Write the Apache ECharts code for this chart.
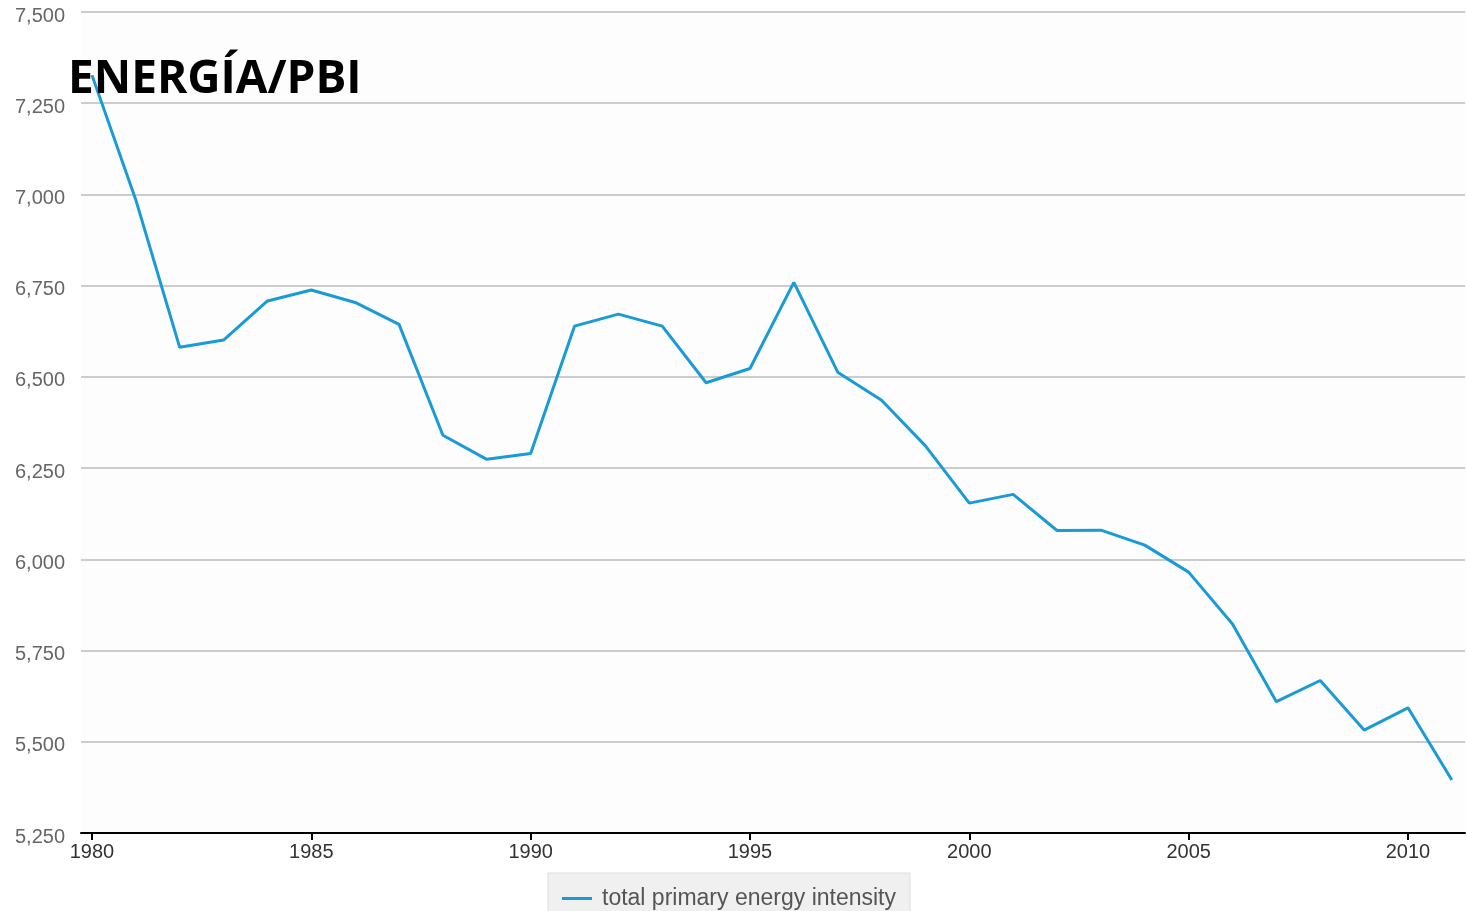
<!DOCTYPE html>
<html>
<head>
<meta charset="utf-8">
<script src="https://cdn.jsdelivr.net/npm/echarts@6/dist/echarts.min.js"></script>
<style>
    html, body { margin: 0; padding: 0; background: #fff; }
    #chart { width: 1467px; height: 911px; }
</style>
</head>
<body>
<div id="chart"></div>
<script>
// años y valores
let years = [1980, 1981, 1982, 1983, 1984, 1985, 1986, 1987, 1988, 1989,
             1990, 1991, 1992, 1993, 1994, 1995, 1996, 1997, 1998, 1999,
             2000, 2001, 2002, 2003, 2004, 2005, 2006, 2007, 2008, 2009,
             2010, 2011];
let intensity = [7327, 6985, 6581, 6601, 6708, 6738, 6704, 6644, 6340, 6274,
                 6290, 6639, 6672, 6639, 6484, 6523, 6759, 6513, 6436, 6311,
                 6154, 6178, 6079, 6080, 6039, 5965, 5823, 5610, 5668, 5532,
                 5593, 5395];
let yearTicks = [1980, 1985, 1990, 1995, 2000, 2005, 2010];
let seriesName = 'total primary energy intensity';
let title = 'ENERGÍA/PBI';

let chart = echarts.init(document.getElementById('chart'));
let points = years.map((y, i) => [y, intensity[i]]);

chart.setOption({
    animation: false,
    title: {
        text: title,
        left: 63,
        top: 52,
        textStyle: {
            fontFamily: 'Open Sans',
            fontWeight: 'bold',
            fontSize: 46,
            color: '#000'
        }
    },
    legend: {
        data: [seriesName],
        left: 548,
        top: 873,
        backgroundColor: '#f0f0f0',
        borderColor: '#dedede',
        borderWidth: 1,
        padding: [14, 14, 8, 14],
        itemWidth: 30,
        itemHeight: 3,
        icon: 'rect',
        textStyle: {
            color: '#555',
            fontFamily: 'Liberation Sans',
            fontSize: 23,
            padding: [0, 0, 0, 5]
        }
    },
    grid: {
        left: 81,
        right: 2,
        top: 12,
        bottom: 78,
        show: true,
        backgroundColor: '#fdfdfd',
        borderWidth: 0
    },
    xAxis: {
        type: 'value',
        min: 1979.75,
        max: 2011.3,
        splitLine: { show: false },
        axisLine: { lineStyle: { color: '#000', width: 2 } },
        axisTick: {
            show: true,
            length: 7,
            customValues: yearTicks,
            lineStyle: { color: '#000', width: 2 }
        },
        axisLabel: {
            customValues: yearTicks,
            margin: 9,
            color: '#333',
            fontFamily: 'Liberation Sans',
            fontSize: 20,
            formatter: (v) => String(v)
        }
    },
    yAxis: {
        type: 'value',
        min: 5250,
        max: 7500,
        interval: 250,
        axisLine: { show: false },
        axisTick: { show: false },
        axisLabel: {
            margin: 16,
            color: '#666',
            fontFamily: 'Liberation Sans',
            fontSize: 20,
            verticalAlign: 'top',
            lineHeight: 8,
            formatter: (v) => v.toLocaleString('en-US')
        },
        splitLine: { lineStyle: { color: '#cccccc', width: 2 } }
    },
    series: [
        {
            name: seriesName,
            type: 'line',
            data: points,
            showSymbol: false,
            symbol: 'none',
            color: '#1a9ad6',
            lineStyle: { width: 3, color: '#1a9ad6' }
        }
    ]
});
</script>
</body>
</html>
